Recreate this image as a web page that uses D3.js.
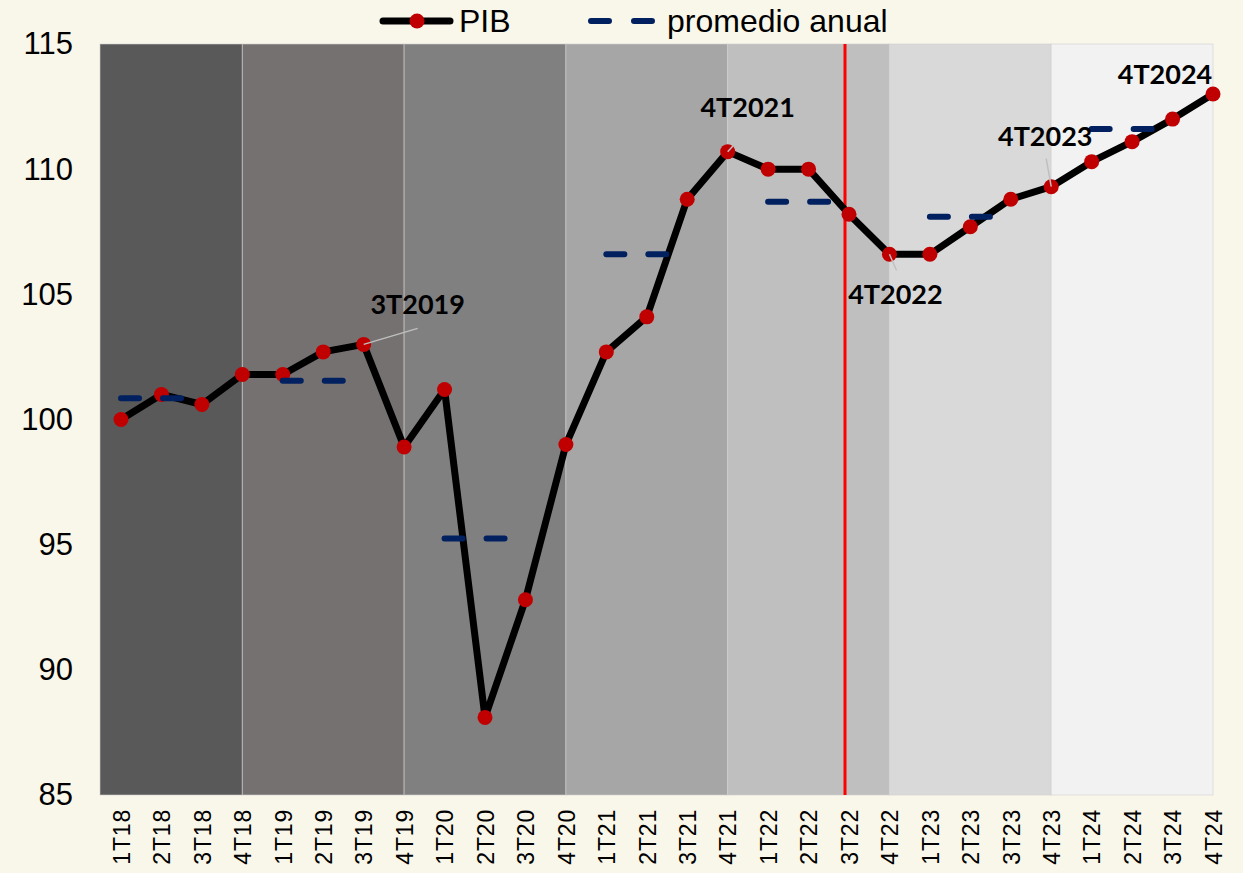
<!DOCTYPE html>
<html>
<head>
<meta charset="utf-8">
<script src="https://cdnjs.cloudflare.com/ajax/libs/d3/7.8.5/d3.min.js"></script>
<style>
  body { margin: 0; background: #f9f7ea; }
  svg { display: block; }
</style>
</head>
<body>
<svg id="chart" width="1243" height="873"></svg>
<script>
// quarters shown on the x axis
var quarters = ["1T18", "2T18", "3T18", "4T18", "1T19", "2T19", "3T19", "4T19",
    "1T20", "2T20", "3T20", "4T20", "1T21", "2T21", "3T21", "4T21",
    "1T22", "2T22", "3T22", "4T22", "1T23", "2T23", "3T23", "4T23",
    "1T24", "2T24", "3T24", "4T24"];

// PIB index (1T18 = 100)
var pib = [100.0, 101.0, 100.6, 101.8, 101.8, 102.7, 103.0, 98.9,
    101.2, 88.1, 92.8, 99.0, 102.7, 104.1, 108.8, 110.7,
    110.0, 110.0, 108.2, 106.6, 106.6, 107.7, 108.8, 109.3,
    110.3, 111.1, 112.0, 113.0];

// annual averages
var years = ["2018", "2019", "2020", "2021", "2022", "2023", "2024"];
var promedio = [100.85, 101.55, 95.25, 106.6, 108.7, 108.1, 111.6];
var bandColors = ["#595959", "#767171", "#808080", "#a6a6a6", "#bfbfbf", "#d9d9d9", "#f2f2f2"];

var yTicks = [85, 90, 95, 100, 105, 110, 115];

// labelled points
var notes = [
    { q: "3T19", text: "3T2019" },
    { q: "4T21", text: "4T2021" },
    { q: "4T22", text: "4T2022" },
    { q: "4T23", text: "4T2023" },
    { q: "4T24", text: "4T2024" }
];
var marker = "3T22";

var svg = d3.select("#chart");
var plotLeft = 100, plotRight = 1213, plotTop = 44, plotBottom = 795;

var x = d3.scalePoint().domain(quarters).range([121, plotRight]);
var y = d3.scaleLinear().domain([85, 115]).range([plotBottom, plotTop]);

// background bands, one per year
var bands = svg.append("g").attr("class", "bands");
years.forEach(function (yr, i) {
    var x0 = i === 0 ? plotLeft : x(quarters[i * 4 - 1]);
    var x1 = x(quarters[i * 4 + 3]);
    bands.append("rect")
        .attr("x", x0)
        .attr("y", plotTop)
        .attr("width", x1 - x0)
        .attr("height", plotBottom - plotTop)
        .attr("fill", bandColors[i])
        .attr("stroke", "#d0d0d0")
        .attr("stroke-opacity", 0.6)
        .attr("stroke-width", 1);
});

// y axis labels
var yAxis = svg.append("g")
    .attr("transform", "translate(" + (plotLeft - 27) + ",0)")
    .call(d3.axisLeft(y).tickValues(yTicks).tickSize(0).tickPadding(0));
yAxis.select(".domain").remove();
yAxis.selectAll("text")
    .attr("font-family", "'Liberation Sans', Arial, sans-serif")
    .attr("font-size", 31)
    .attr("fill", "#000");

// x axis labels, rotated
var xAxis = svg.append("g")
    .attr("transform", "translate(0," + plotBottom + ")")
    .call(d3.axisBottom(x).tickSize(0));
xAxis.select(".domain").remove();
xAxis.selectAll("text")
    .attr("font-family", "'Liberation Sans', Arial, sans-serif")
    .attr("font-size", 23)
    .attr("letter-spacing", 0.8)
    .attr("fill", "#000")
    .attr("text-anchor", "end")
    .attr("transform", "rotate(-90)")
    .attr("x", -14)
    .attr("y", 0)
    .attr("dy", "0.36em");

// red marker line
svg.append("line")
    .attr("x1", x(marker) - 4)
    .attr("x2", x(marker) - 4)
    .attr("y1", plotTop)
    .attr("y2", plotBottom)
    .attr("stroke", "#ff0000")
    .attr("stroke-width", 3);

// PIB line and markers
var line = d3.line()
    .x(function (d, i) { return x(quarters[i]); })
    .y(function (d) { return y(d); });

svg.append("path")
    .datum(pib)
    .attr("d", line)
    .attr("fill", "none")
    .attr("stroke", "#000")
    .attr("stroke-width", 7)
    .attr("stroke-linejoin", "round");

svg.append("g")
    .selectAll("circle")
    .data(pib)
    .enter().append("circle")
    .attr("cx", function (d, i) { return x(quarters[i]); })
    .attr("cy", function (d) { return y(d); })
    .attr("r", 7.5)
    .attr("fill", "#c00000");

// annual average dashes (drawn over the PIB line)
var avg = svg.append("g").attr("class", "promedio");
years.forEach(function (yr, i) {
    avg.append("line")
        .attr("x1", x(quarters[i * 4]))
        .attr("x2", x(quarters[i * 4 + 2]))
        .attr("y1", y(promedio[i]))
        .attr("y2", y(promedio[i]))
        .attr("stroke", "#002060")
        .attr("stroke-width", 6)
        .attr("stroke-linecap", "round")
        .attr("stroke-dasharray", "18,24");
});

// annotations
var offsets = {
    "3T19": { tx: 54, ty: -30, lx: 54, ly: -16 },
    "4T21": { tx: 20, ty: -35, lx: 21, ly: -23 },
    "4T22": { tx: 6, ty: 50, lx: 7, ly: 16 },
    "4T23": { tx: -6, ty: -41, lx: -5, ly: -28 },
    "4T24": { tx: -48, ty: -10, lx: null, ly: null }
};
var ann = svg.append("g").attr("class", "notes");
notes.forEach(function (n) {
    var px = x(n.q), py = y(pib[quarters.indexOf(n.q)]);
    var o = offsets[n.q];
    if (o.lx !== null) {
        ann.append("line")
            .attr("x1", px).attr("y1", py)
            .attr("x2", px + o.lx).attr("y2", py + o.ly)
            .attr("stroke", "#bfbfbf")
            .attr("stroke-width", 1.5);
    }
    ann.append("text")
        .attr("x", px + o.tx)
        .attr("y", py + o.ty)
        .attr("text-anchor", "middle")
        .attr("font-family", "Lato, 'Open Sans', sans-serif")
        .attr("font-weight", "bold")
        .attr("font-size", 27)
        .attr("fill", "#000")
        .text(n.text);
});

// legend
var lg = svg.append("g").attr("class", "legend");
lg.append("line")
    .attr("x1", 383).attr("x2", 450).attr("y1", 21).attr("y2", 21)
    .attr("stroke", "#000").attr("stroke-width", 7).attr("stroke-linecap", "round");
lg.append("circle")
    .attr("cx", 417).attr("cy", 21).attr("r", 7.5).attr("fill", "#c00000");
lg.append("text")
    .attr("x", 459).attr("y", 32)
    .attr("font-family", "'Liberation Sans', Arial, sans-serif")
    .attr("font-size", 32)
    .text("PIB");
lg.append("line")
    .attr("x1", 591).attr("x2", 652).attr("y1", 21).attr("y2", 21)
    .attr("stroke", "#002060").attr("stroke-width", 6).attr("stroke-linecap", "round")
    .attr("stroke-dasharray", "18,25");
lg.append("text")
    .attr("x", 667).attr("y", 32)
    .attr("font-family", "'Liberation Sans', Arial, sans-serif")
    .attr("font-size", 32)
    .text("promedio anual");
</script>
</body>
</html>
